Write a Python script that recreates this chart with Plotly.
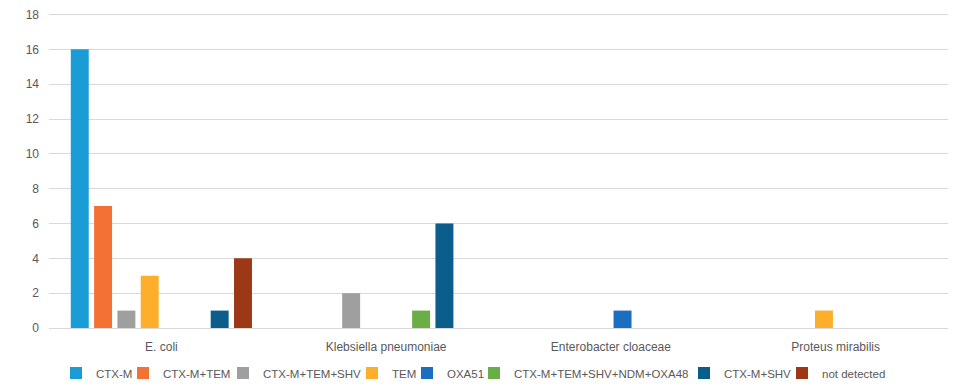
import plotly.graph_objects as go

categories = ["E. coli", "Klebsiella pneumoniae", "Enterobacter cloaceae", "Proteus mirabilis"]
series_names = ["CTX-M", "CTX-M+TEM", "CTX-M+TEM+SHV", "TEM", "OXA51",
                "CTX-M+TEM+SHV+NDM+OXA48", "CTX-M+SHV", "not detected"]
ctx_m = [16, 0, 0, 0]
ctx_m_tem = [7, 0, 0, 0]
ctx_m_tem_shv = [1, 2, 0, 0]
tem = [3, 0, 0, 1]
oxa51 = [0, 0, 1, 0]
ctx_m_tem_shv_ndm_oxa48 = [0, 1, 0, 0]
ctx_m_shv = [1, 6, 0, 0]
not_detected = [4, 0, 0, 0]
series_values = [ctx_m, ctx_m_tem, ctx_m_tem_shv, tem, oxa51,
                 ctx_m_tem_shv_ndm_oxa48, ctx_m_shv, not_detected]
colors = ["#1A9CD6", "#F37135", "#9F9F9F", "#FDAE2A", "#1C6FBF",
          "#6AAE45", "#0B5D8C", "#9C3815"]
y_ticks = [0, 2, 4, 6, 8, 10, 12, 14, 16, 18]

# page offset from the default 8px body margin of the html page
OFF = 8
W, H = 974 - 2 * OFF, 392 - 2 * OFF
ML, MR, MT, MB = 49 - OFF, 26 - OFF, 13 - OFF, 64 - OFF
PW = W - ML - MR
PH = H - MT - MB
# small headroom so the top gridline (18) is not clipped at the plot edge
Y_TOP = 18 / (1 - 1.5 / PH)

# legend text start positions (page pixels) in the reference
legend_text_px = [93, 160, 260, 389, 444, 511, 721, 819]
TEXT_GAP = 40
SHIFT = 3

fig = go.Figure()
layout_legends = {}
for i, (name, vals, c) in enumerate(zip(series_names, series_values, colors)):
    key = "legend" if i == 0 else f"legend{i + 1}"
    fig.add_trace(go.Bar(x=categories, y=vals, name=name, legend=key,
                         marker=dict(color=c, line=dict(width=0))))
    left = legend_text_px[i] + SHIFT - TEXT_GAP - OFF
    layout_legends[key] = dict(
        orientation="h", x=(left - ML) / PW, xanchor="left",
        y=-((373 - OFF) - (H - MB)) / PH, yanchor="middle",
        font=dict(size=11.5, color="#595959"), itemwidth=30,
        bgcolor="rgba(0,0,0,0)", borderwidth=0,
    )

font = "Liberation Sans, Arial"
fig.update_layout(
    width=W, height=H,
    margin=dict(l=ML, r=MR, t=MT, b=MB, autoexpand=False),
    barmode="group", bargap=0.17, bargroupgap=0.23,
    plot_bgcolor="white", paper_bgcolor="white",
    font=dict(family=font, size=12, color="#595959"),
    yaxis=dict(range=[0, Y_TOP], tickvals=y_ticks, showgrid=True,
               gridcolor="#D9D9D9", gridwidth=1, zeroline=False,
               showline=False, ticks="", ticklabelstandoff=9,
               ticklabeloverflow="allow",
               tickfont=dict(size=12, color="#595959")),
    xaxis=dict(showline=True, linecolor="#D9D9D9", linewidth=1,
               ticks="", ticklabelstandoff=8,
               tickfont=dict(size=12, color="#595959")),
    showlegend=True,
    **layout_legends,
)
fig.write_html("out.html")
